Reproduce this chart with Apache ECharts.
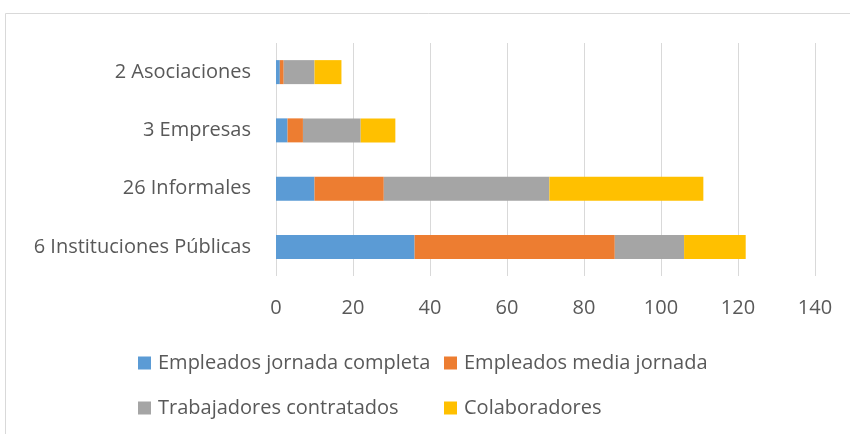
<!DOCTYPE html>
<html>
<head>
<meta charset="utf-8">
<script src="https://cdn.jsdelivr.net/npm/echarts@6/dist/echarts.min.js"></script>
<style>html,body{margin:0;padding:0;background:#fff;}#c{width:850px;height:434px;}</style>
</head>
<body>
<div id="c"></div>
<script>
const categories = ['6 Instituciones Públicas', '26 Informales', '3 Empresas', '2 Asociaciones'];
const seriesNames = ['Empleados jornada completa', 'Empleados media jornada', 'Trabajadores contratados', 'Colaboradores'];
const jornadaCompleta = [36, 10, 3, 1];
const mediaJornada = [52, 18, 4, 1];
const contratados = [18, 43, 15, 8];
const colaboradores = [16, 40, 9, 7];
const xTicks = { min: 0, max: 140, interval: 20 };

const colors = ['#5B9BD5', '#ED7D31', '#A5A5A5', '#FFC000'];
const values = [jornadaCompleta, mediaJornada, contratados, colaboradores];
const font = 'Open Sans';
const txt = '#595959';
const fs = 20;

const chart = echarts.init(document.getElementById('c'), null, { renderer: 'canvas' });
const legendStyle = {
  left: 133, itemGap: 0, itemWidth: 13, itemHeight: 13, icon: 'rect',
  textStyle: { color: txt, fontFamily: font, fontSize: fs, width: 286, lineHeight: 24, padding: [0, 0, 0, 2] }
};
chart.setOption({
  animation: false,
  color: colors,
  graphic: [{
    type: 'rect', shape: { x: 5.5, y: 13.5, width: 900, height: 500 },
    style: { fill: 'none', stroke: '#d9d9d9', lineWidth: 1 }, silent: true
  }],
  grid: { left: 276, right: 35, top: 43, bottom: 158, containLabel: false },
  xAxis: {
    type: 'value', min: xTicks.min, max: xTicks.max, interval: xTicks.interval,
    axisLine: { show: false }, axisTick: { show: false },
    splitLine: { show: true, lineStyle: { color: '#d9d9d9', width: 1 } },
    axisLabel: { color: txt, fontFamily: font, fontSize: fs, margin: 22 }
  },
  yAxis: {
    type: 'category', data: categories,
    axisLine: { show: false }, axisTick: { show: false },
    axisLabel: { color: txt, fontFamily: font, fontSize: fs, margin: 25 }
  },
  legend: [
    Object.assign({ data: seriesNames.slice(0, 2), top: 346 }, legendStyle),
    Object.assign({ data: seriesNames.slice(2, 4), top: 391 }, legendStyle)
  ],
  series: seriesNames.map((n, i) => ({
    name: n, type: 'bar', stack: 'total', data: values[i],
    barWidth: 24,
    itemStyle: { color: colors[i] }
  }))
});
</script>
</body>
</html>
